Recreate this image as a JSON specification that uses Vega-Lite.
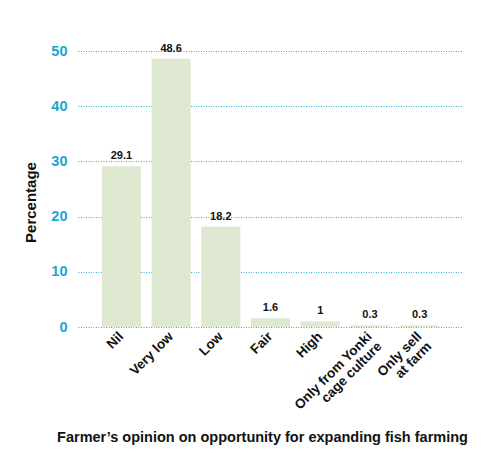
{
  "$schema": "https://vega.github.io/schema/vega-lite/v6.json",
  "autosize": {"type": "none"},
  "padding": {"left": 78, "top": 51, "right": 29, "bottom": 128},
  "width": 385,
  "height": 276,
  "background": "white",
  "config": {
    "font": "Liberation Sans",
    "view": {"stroke": null}
  },
  "data": {
    "values": [
      {"opinion": "Nil", "pct": 29.1},
      {"opinion": "Very low", "pct": 48.6},
      {"opinion": "Low", "pct": 18.2},
      {"opinion": "Fair", "pct": 1.6},
      {"opinion": "High", "pct": 1},
      {"opinion": "Only from Yonki|cage culture", "pct": 0.3},
      {"opinion": "Only sell|at farm", "pct": 0.3}
    ]
  },
  "encoding": {
    "x": {
      "field": "opinion",
      "type": "nominal",
      "sort": null,
      "scale": {"paddingInner": 0.215, "paddingOuter": 0.48},
      "axis": {
        "title": "Farmer’s opinion on opportunity for expanding fish farming",
        "titleFont": "Liberation Sans",
        "titleFontSize": 14.5,
        "titleFontWeight": "bold",
        "titleColor": "#111111",
        "titleX": 184,
        "titleY": 110,
        "titleBaseline": "middle",
        "labelExpr": "split(datum.label, '|')",
        "labelAngle": -45,
        "labelAlign": "right",
        "labelBaseline": "middle",
        "labelFontSize": 13.5,
        "labelFontWeight": "bold",
        "labelColor": "#111111",
        "labelPadding": 7,
        "labelLineHeight": 14,
        "ticks": false,
        "domain": false,
        "grid": false
      }
    },
    "y": {
      "field": "pct",
      "type": "quantitative",
      "scale": {"domain": [0, 50], "nice": false},
      "axis": {
        "title": "Percentage",
        "titleFontSize": 15,
        "titleFontWeight": "bold",
        "titleColor": "#111111",
        "titleX": -48,
        "titleY": 151,
        "titleAngle": -90,
        "titleBaseline": "middle",
        "values": [0, 10, 20, 30, 40, 50],
        "labelFontSize": 14.5,
        "labelFontWeight": "bold",
        "labelColor": "#1aa6cf",
        "labelPadding": 11,
        "ticks": false,
        "domain": false,
        "grid": true,
        "gridColor": "#2fb0d6",
        "gridDash": [1, 1.5],
        "gridWidth": 1
      }
    }
  },
  "layer": [
    {
      "mark": {"type": "bar", "color": "#dfe8d1"}
    },
    {
      "mark": {
        "type": "text",
        "baseline": "bottom",
        "dy": -5,
        "fontSize": 11,
        "fontWeight": "bold",
        "color": "#111111"
      },
      "encoding": {"text": {"field": "pct", "type": "quantitative"}}
    }
  ]
}
